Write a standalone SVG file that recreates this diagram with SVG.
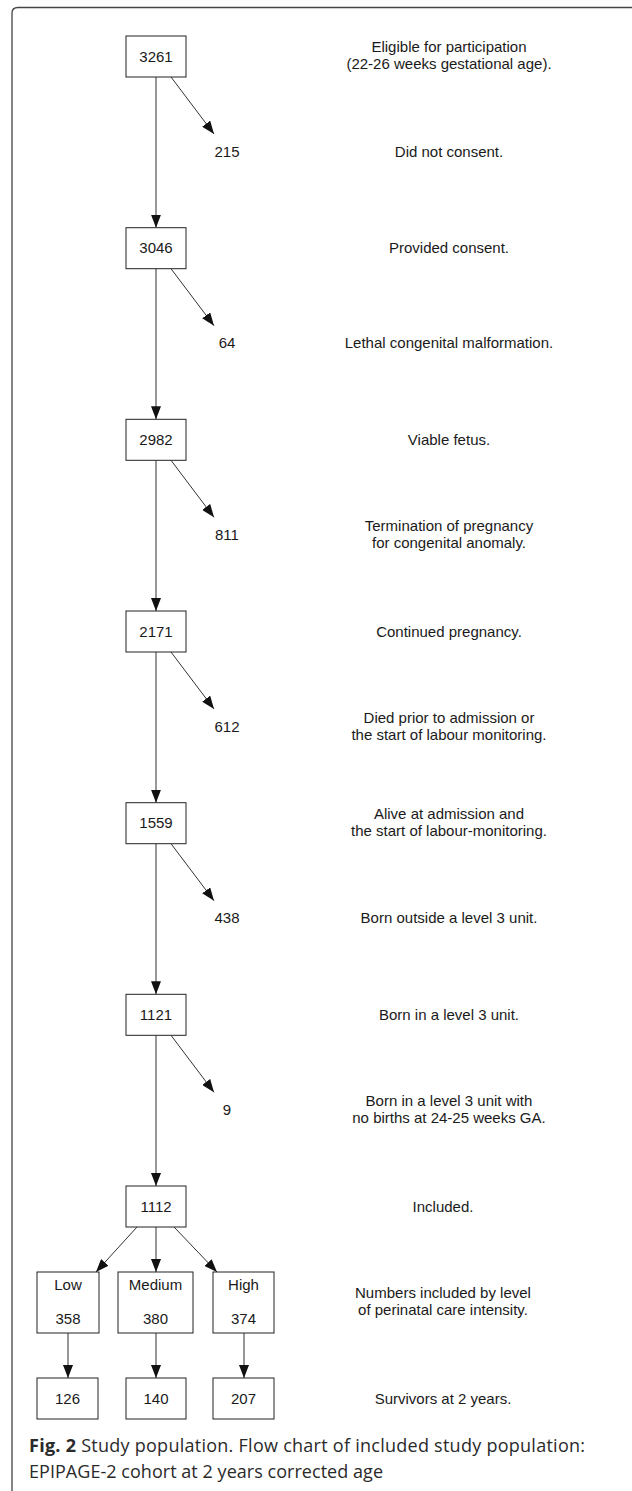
<svg xmlns="http://www.w3.org/2000/svg" width="632" height="1491" viewBox="0 0 632 1491">
<style>
.box{fill:#fff;stroke:#222;stroke-width:1}
.t{font-family:"Liberation Sans",Arial,sans-serif;font-size:15px;fill:#1a1a1a;text-anchor:middle}
.c{stroke:#333;stroke-width:1;fill:none;marker-end:url(#ah)}
.cap{font-family:"Open Sans","Noto Sans",sans-serif;font-size:18px;fill:#2a2a2a}
</style>
<defs>
<marker id="ah" markerUnits="userSpaceOnUse" markerWidth="13" markerHeight="10" refX="13" refY="5" orient="auto">
<path d="M0,0 L13,5 L0,10 z" fill="#111"/>
</marker>
</defs>
<rect width="632" height="1491" fill="#fff"/>
<path d="M12,1491 V13 Q12,7.5 18,7.5 H632" fill="none" stroke="#444" stroke-width="1.3"/>

<g id="connectors">
<line class="c" x1="156" y1="77" x2="156" y2="227.7"/>
<line class="c" x1="156" y1="268.7" x2="156" y2="419.3"/>
<line class="c" x1="156" y1="460.3" x2="156" y2="611"/>
<line class="c" x1="156" y1="652" x2="156" y2="802.7"/>
<line class="c" x1="156" y1="843.7" x2="156" y2="994.3"/>
<line class="c" x1="156" y1="1035.3" x2="156" y2="1186"/>
<line class="c" x1="171" y1="77" x2="214" y2="134"/>
<line class="c" x1="171" y1="268.7" x2="214" y2="325.7"/>
<line class="c" x1="171" y1="460.3" x2="214" y2="517.3"/>
<line class="c" x1="171" y1="652" x2="214" y2="709"/>
<line class="c" x1="171" y1="843.7" x2="214" y2="900.7"/>
<line class="c" x1="171" y1="1035.3" x2="214" y2="1092.3"/>
<line class="c" x1="137" y1="1227" x2="96" y2="1272"/>
<line class="c" x1="156" y1="1227" x2="156" y2="1272"/>
<line class="c" x1="174" y1="1227" x2="217" y2="1272"/>
<line class="c" x1="68" y1="1333" x2="68" y2="1378"/>
<line class="c" x1="156" y1="1333" x2="156" y2="1378"/>
<line class="c" x1="244" y1="1333" x2="244" y2="1378"/>
</g>

<g id="n3261"><rect class="box" x="126" y="36" width="60" height="41"/><text class="t" x="156" y="61.5">3261</text></g>
<g id="n215"><text class="t" x="227" y="156.5">215</text></g>
<g id="n3046"><rect class="box" x="126" y="227.7" width="60" height="41"/><text class="t" x="156" y="253.2">3046</text></g>
<g id="n64"><text class="t" x="227" y="348.2">64</text></g>
<g id="n2982"><rect class="box" x="126" y="419.3" width="60" height="41"/><text class="t" x="156" y="444.8">2982</text></g>
<g id="n811"><text class="t" x="227" y="539.8">811</text></g>
<g id="n2171"><rect class="box" x="126" y="611" width="60" height="41"/><text class="t" x="156" y="636.5">2171</text></g>
<g id="n612"><text class="t" x="227" y="731.5">612</text></g>
<g id="n1559"><rect class="box" x="126" y="802.7" width="60" height="41"/><text class="t" x="156" y="828.2">1559</text></g>
<g id="n438"><text class="t" x="227" y="923.2">438</text></g>
<g id="n1121"><rect class="box" x="126" y="994.3" width="60" height="41"/><text class="t" x="156" y="1019.8">1121</text></g>
<g id="n9"><text class="t" x="227" y="1114.8">9</text></g>
<g id="n1112"><rect class="box" x="126" y="1186" width="60" height="41"/><text class="t" x="156" y="1211.5">1112</text></g>

<g id="nLow"><rect class="box" x="37" y="1272" width="62" height="61"/><text class="t" x="68" y="1290">Low</text><text class="t" x="68" y="1324">358</text></g>
<g id="nMedium"><rect class="box" x="118" y="1272" width="75" height="61"/><text class="t" x="155.5" y="1290">Medium</text><text class="t" x="155.5" y="1324">380</text></g>
<g id="nHigh"><rect class="box" x="213" y="1272" width="61" height="61"/><text class="t" x="243.5" y="1290">High</text><text class="t" x="243.5" y="1324">374</text></g>
<g id="n126"><rect class="box" x="37" y="1378" width="61" height="41"/><text class="t" x="67.5" y="1403.5">126</text></g>
<g id="n140"><rect class="box" x="126" y="1378" width="60" height="41"/><text class="t" x="156" y="1403.5">140</text></g>
<g id="n207"><rect class="box" x="213" y="1378" width="61" height="41"/><text class="t" x="243.5" y="1403.5">207</text></g>

<g id="descriptions">
<text class="t" x="449" y="52">Eligible for participation</text>
<text class="t" x="449" y="68.5">(22-26 weeks gestational age).</text>
<text class="t" x="449" y="156.5">Did not consent.</text>
<text class="t" x="449" y="253.2">Provided consent.</text>
<text class="t" x="449" y="348.2">Lethal congenital malformation.</text>
<text class="t" x="449" y="444.8">Viable fetus.</text>
<text class="t" x="449" y="530.8">Termination of pregnancy</text>
<text class="t" x="449" y="547.8">for congenital anomaly.</text>
<text class="t" x="449" y="636.5">Continued pregnancy.</text>
<text class="t" x="449" y="722.5">Died prior to admission or</text>
<text class="t" x="449" y="739.5">the start of labour monitoring.</text>
<text class="t" x="449" y="819">Alive at admission and</text>
<text class="t" x="449" y="836">the start of labour-monitoring.</text>
<text class="t" x="449" y="923.2">Born outside a level 3 unit.</text>
<text class="t" x="449" y="1019.8">Born in a level 3 unit.</text>
<text class="t" x="449" y="1105.8">Born in a level 3 unit with</text>
<text class="t" x="449" y="1122.8">no births at 24-25 weeks GA.</text>
<text class="t" x="443" y="1211.5">Included.</text>
<text class="t" x="443" y="1298">Numbers included by level</text>
<text class="t" x="443" y="1315">of perinatal care intensity.</text>
<text class="t" x="443" y="1403.5">Survivors at 2 years.</text>
</g>

<g id="caption">
<text class="cap" x="29" y="1452" textLength="556" lengthAdjust="spacing"><tspan font-weight="bold">Fig. 2</tspan> Study population. Flow chart of included study population:</text>
<text class="cap" x="29" y="1478" textLength="354" lengthAdjust="spacing">EPIPAGE-2 cohort at 2 years corrected age</text>
</g>
</svg>
